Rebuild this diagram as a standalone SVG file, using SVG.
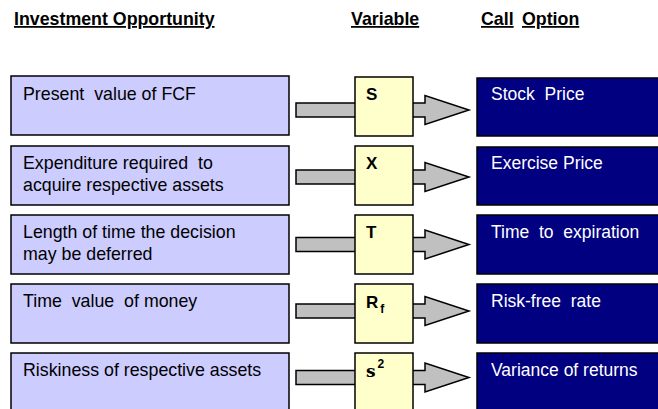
<svg xmlns="http://www.w3.org/2000/svg" width="658" height="409" viewBox="0 0 658 409">
<defs>
<style>
text{white-space:pre}
.hdr{font-family:"Liberation Sans",Arial,sans-serif;font-weight:bold;font-size:17.8px;fill:#000;text-decoration:underline}
.inv rect{fill:#ccccff;stroke:#000;stroke-width:1.5}
.inv text{font-family:"Liberation Sans",Arial,sans-serif;font-size:17.8px;fill:#000}
.var rect{fill:#ffffcc;stroke:#000;stroke-width:1.5}
.var text{font-family:"Liberation Sans",Arial,sans-serif;font-weight:bold;font-size:17px;fill:#000}
.opt rect{fill:#000080;stroke:#000;stroke-width:1.5}
.opt text{font-family:"Liberation Sans",Arial,sans-serif;font-size:17.5px;fill:#fff}
.arr{fill:#c0c0c0;stroke:#000;stroke-width:1.5;stroke-linejoin:miter}
</style>
<path id="arrow" d="M0,-7 H129 V-14.5 L173,0 L129,14.5 V7 H0 Z"/>
</defs>
<g id="headers">
<text class="hdr" x="14" y="25">Investment Opportunity</text>
<text class="hdr" x="351" y="25">Variable</text>
<text class="hdr" x="481" y="25">Call</text>
<text class="hdr" x="522" y="25">Option</text>
</g>
<g id="connectors">
<use href="#arrow" class="arr" x="296" y="110"/>
<use href="#arrow" class="arr" x="296" y="177"/>
<use href="#arrow" class="arr" x="296" y="244.5"/>
<use href="#arrow" class="arr" x="296" y="311"/>
<use href="#arrow" class="arr" x="296" y="377.5"/>
</g>
<g id="inv1" class="inv"><rect x="11" y="76" width="278" height="59"/><text x="23" y="100">Present  value of FCF</text></g>
<g id="inv2" class="inv"><rect x="11" y="146" width="278" height="59"/><text x="23" y="169">Expenditure required  to</text><text x="23" y="191">acquire respective assets</text></g>
<g id="inv3" class="inv"><rect x="11" y="215" width="278" height="59"/><text x="23" y="238">Length of time the decision</text><text x="23" y="260">may be deferred</text></g>
<g id="inv4" class="inv"><rect x="11" y="284" width="278" height="59"/><text x="23" y="307">Time  value  of money</text></g>
<g id="inv5" class="inv"><rect x="11" y="353" width="278" height="70"/><text x="23" y="376">Riskiness of respective assets</text></g>
<g id="var1" class="var"><rect x="355" y="77" width="58" height="59"/><text x="366" y="100">S</text></g>
<g id="var2" class="var"><rect x="355" y="146" width="58" height="59"/><text x="366" y="169">X</text></g>
<g id="var3" class="var"><rect x="355" y="215" width="58" height="59"/><text x="366" y="238">T</text></g>
<g id="var4" class="var"><rect x="355" y="284" width="58" height="59"/><text x="366" y="308">R<tspan font-size="12" dx="2" dy="5">f</tspan></text></g>
<g id="var5" class="var"><rect x="355" y="353" width="58" height="70"/><text x="366" y="377"><tspan font-family="DejaVu Serif,serif" font-size="17">s</tspan><tspan font-size="12" dx="2" dy="-9">2</tspan></text></g>
<g id="opt1" class="opt"><rect x="477" y="78" width="190" height="58"/><text x="491" y="100">Stock  Price</text></g>
<g id="opt2" class="opt"><rect x="477" y="147" width="190" height="58"/><text x="491" y="169">Exercise Price</text></g>
<g id="opt3" class="opt"><rect x="477" y="215" width="190" height="59"/><text x="491" y="238">Time  to  expiration</text></g>
<g id="opt4" class="opt"><rect x="477" y="284" width="190" height="59"/><text x="491" y="307">Risk-free  rate</text></g>
<g id="opt5" class="opt"><rect x="477" y="353" width="190" height="70"/><text x="491" y="376">Variance of returns</text></g>
</svg>
